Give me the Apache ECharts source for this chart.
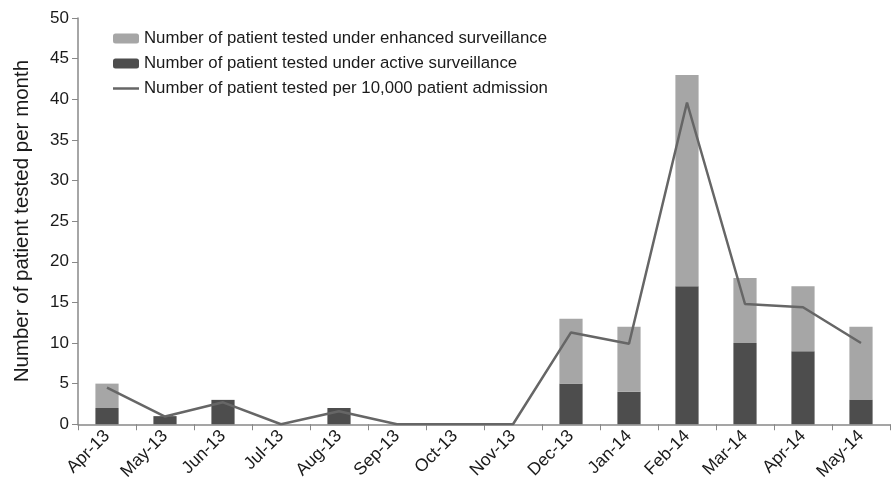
<!DOCTYPE html>
<html>
<head>
<meta charset="utf-8">
<script src="https://cdn.jsdelivr.net/npm/echarts@6/dist/echarts.min.js"></script>
<style>
  html, body { margin: 0; padding: 0; background: #fff; }
  #main { width: 894px; height: 483px; }
</style>
</head>
<body>
<div id="main"></div>
<script>
var months = ['Apr-13','May-13','Jun-13','Jul-13','Aug-13','Sep-13','Oct-13','Nov-13','Dec-13','Jan-14','Feb-14','Mar-14','Apr-14','May-14'];
var activeTested = [2, 1, 3, 0, 2, 0, 0, 0, 5, 4, 17, 10, 9, 3];
var enhancedTested = [3, 0, 0, 0, 0, 0, 0, 0, 8, 8, 26, 8, 8, 9];
var per10000 = [4.5, 0.95, 2.7, 0, 1.6, 0, 0, 0, 11.3, 9.9, 39.6, 14.8, 14.4, 10];

var nameEnhanced = 'Number of patient tested under enhanced surveillance';
var nameActive = 'Number of patient tested under active surveillance';
var nameRate = 'Number of patient tested per 10,000 patient admission';

var myChart = echarts.init(document.getElementById('main'));

var font = 'Liberation Sans, Arial, sans-serif';

var option = {
    animation: false,
    textStyle: { fontFamily: font },
    grid: { left: 78, right: 4, top: 18, bottom: 58 },
    legend: {
        orient: 'vertical',
        left: 108,
        top: 25,
        itemGap: 8,
        itemWidth: 26,
        itemHeight: 10,
        data: [
            nameEnhanced,
            nameActive,
            { name: nameRate, icon: 'path://M0,0L26,0L26,2.5L0,2.5Z' }
        ],
        textStyle: { fontSize: 16.8, color: '#1a1a1a', fontFamily: font }
    },
    xAxis: {
        type: 'category',
        data: months,
        axisLine: { lineStyle: { color: '#888', width: 1.5 } },
        axisTick: { show: true, length: 6, lineStyle: { color: '#888' } },
        axisLabel: { rotate: 45, fontSize: 17.5, color: '#1a1a1a', margin: 9, interval: 0 }
    },
    yAxis: {
        type: 'value',
        min: 0,
        max: 50,
        interval: 5,
        name: 'Number of patient tested per month',
        nameLocation: 'middle',
        nameGap: 45,
        nameTextStyle: { fontSize: 20.5, color: '#1a1a1a' },
        axisLine: { show: true, lineStyle: { color: '#888', width: 1.5 } },
        axisTick: { show: true, length: 6, lineStyle: { color: '#888' } },
        axisLabel: { fontSize: 17, color: '#1a1a1a', margin: 9 },
        splitLine: { show: false }
    },
    series: [
        {
            name: nameActive,
            type: 'bar',
            stack: 'tested',
            barWidth: '40%',
            itemStyle: { color: '#4d4d4d' },
            data: activeTested
        },
        {
            name: nameEnhanced,
            type: 'bar',
            stack: 'tested',
            barWidth: '40%',
            itemStyle: { color: '#a6a6a6' },
            data: enhancedTested
        },
        {
            name: nameRate,
            type: 'line',
            symbol: 'none',
            lineStyle: { color: '#666', width: 2.5 },
            itemStyle: { color: '#666' },
            data: per10000
        }
    ]
};

myChart.setOption(option);
</script>
</body>
</html>
